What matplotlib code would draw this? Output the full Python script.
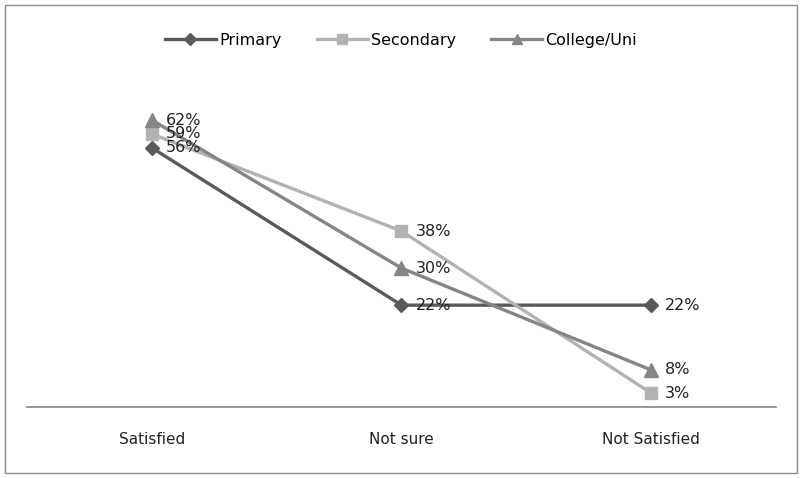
import matplotlib
matplotlib.use("Agg")
import matplotlib.pyplot as plt
from matplotlib.patches import Rectangle

# data
categories = ["Satisfied", "Not sure", "Not Satisfied"]
primary = [56, 22, 22]
secondary = [59, 38, 3]
college = [62, 30, 8]

plt.rcParams['font.family'] = ['DejaVu Sans']

fig = plt.figure(figsize=(8.02, 4.78), dpi=100)
ax = fig.add_axes([27 / 802, 71 / 478, 749 / 802, 324 / 478])

x = list(range(len(categories)))
series = [
    ("Primary", primary, "#5a5a5a", "D", 7.5),
    ("Secondary", secondary, "#b2b2b2", "s", 8.5),
    ("College/Uni", college, "#858585", "^", 9.5),
]

for name, vals, col, mk, ms in series:
    ax.plot(x, vals, color=col, lw=2.4, marker=mk, markersize=ms,
            markeredgecolor=col, markerfacecolor=col, label=name)
    for xi, v in zip(x, vals):
        ax.annotate(f"{v}%", (xi, v), xytext=(10, 0), textcoords="offset points",
                    va="center", ha="left", fontsize=11.5, color="#222222")

ax.set_xlim(-0.5, 2.5)
ax.set_ylim(0, 70)
ax.set_xticks(x)
ax.set_xticklabels(categories, fontsize=11, color="#222222")
ax.tick_params(axis="x", length=0, pad=18)
ax.set_yticks([])
for s in ["top", "right", "left"]:
    ax.spines[s].set_visible(False)
ax.spines["bottom"].set_color("#888888")
ax.spines["bottom"].set_linewidth(1.2)

fig.legend(loc="center", bbox_to_anchor=(0.5, 1 - 40 / 478), ncol=3, frameon=False,
           fontsize=11.5, handlelength=3.2, columnspacing=2.2, handletextpad=0.2,
           markerscale=0.8)

fig.patches.append(Rectangle((5 / 802, 5 / 478), 792 / 802, 468 / 478,
                             transform=fig.transFigure, fill=False,
                             edgecolor="#8c8c8c", lw=1))

fig.savefig("out.png", dpi=100)
